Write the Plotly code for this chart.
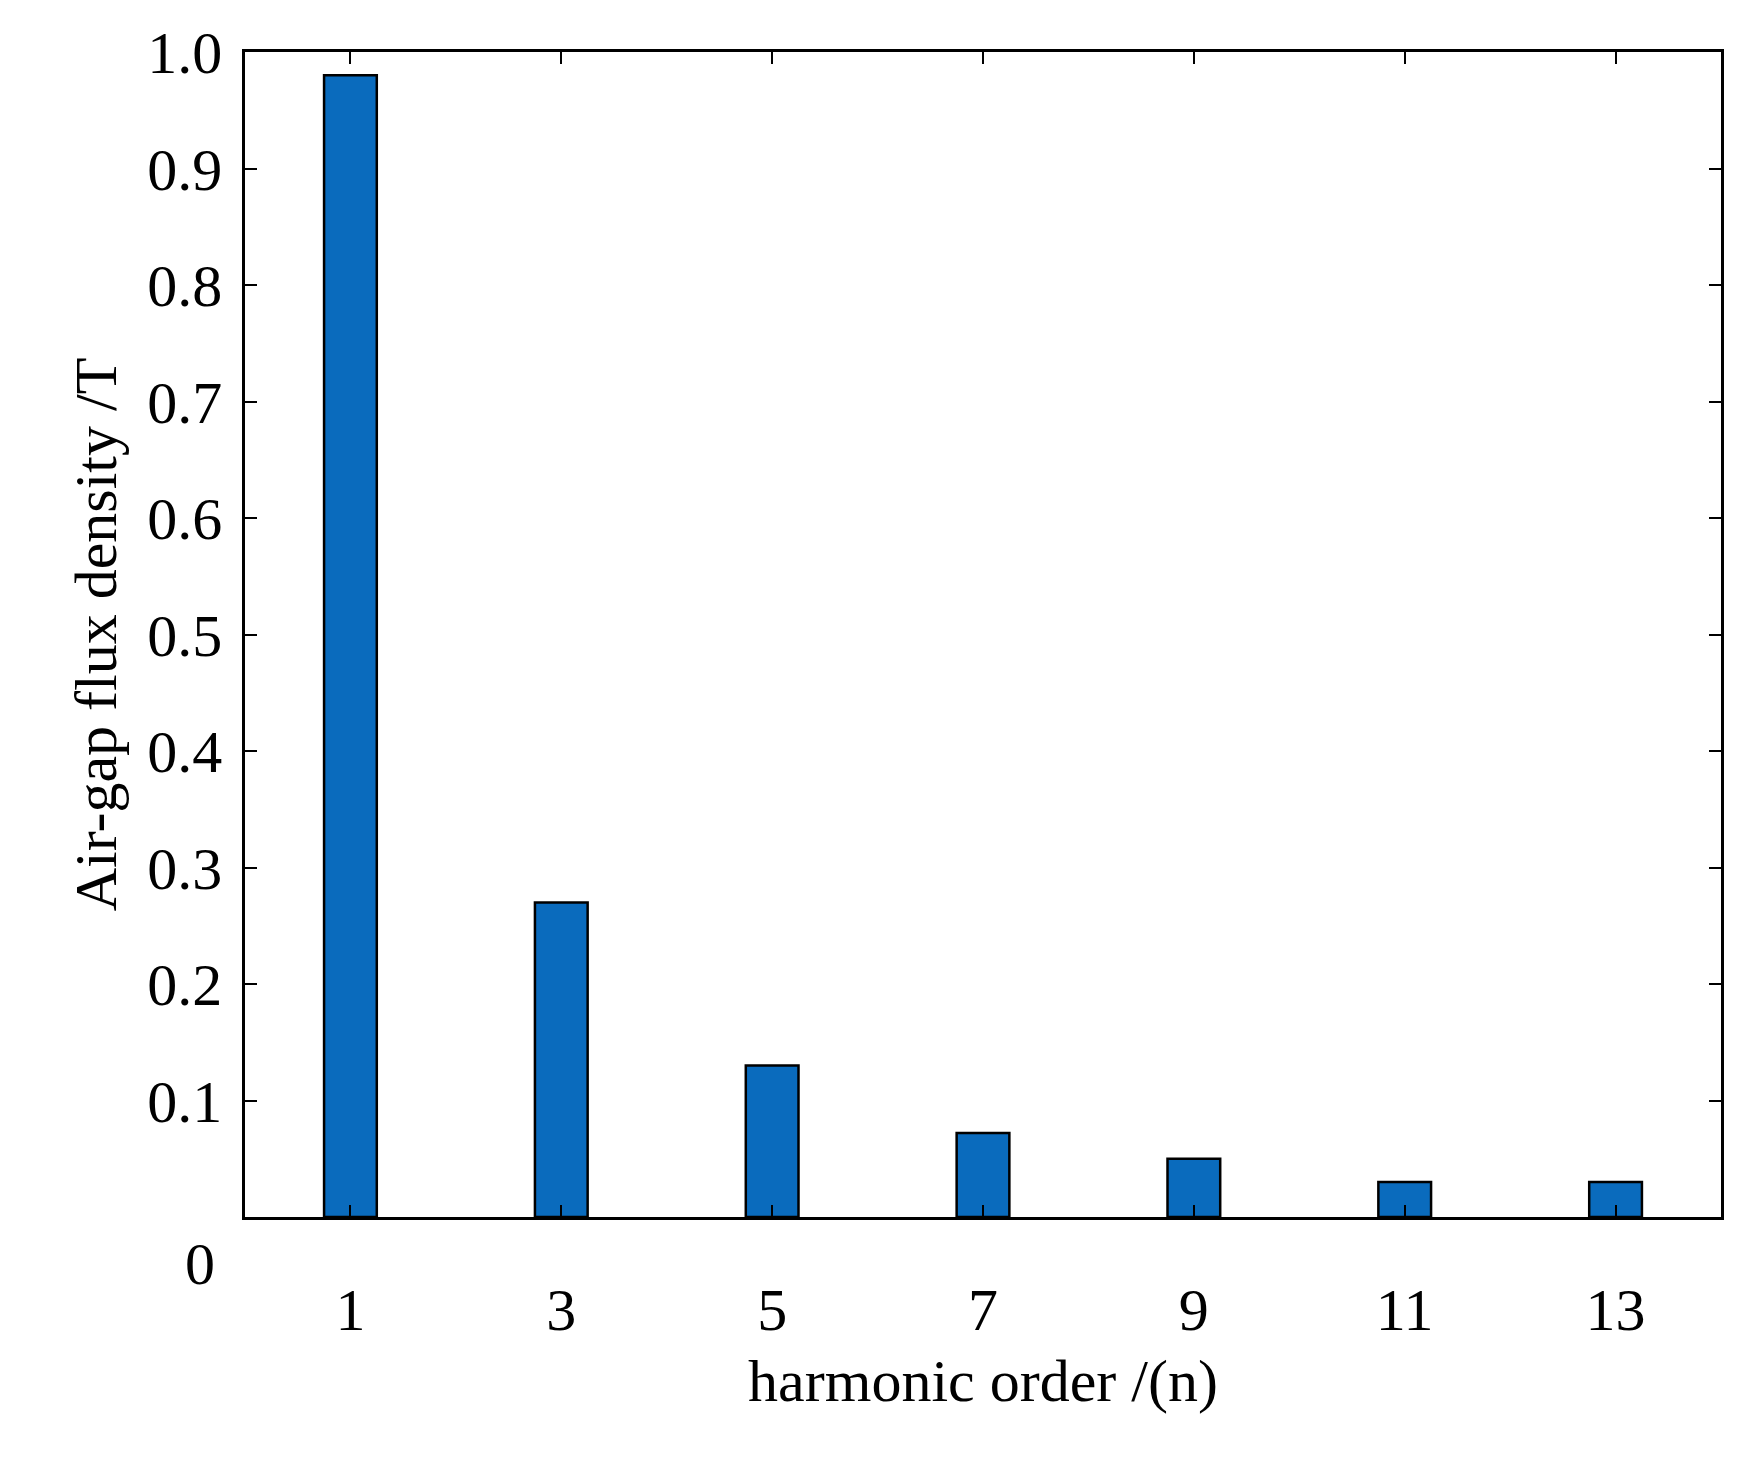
import plotly.graph_objects as go

orders = [1, 3, 5, 7, 9, 11, 13]
values = [0.98, 0.27, 0.13, 0.072, 0.05, 0.03, 0.03]
ytick_vals = [0.1, 0.2, 0.3, 0.4, 0.5, 0.6, 0.7, 0.8, 0.9, 1.0]
ytick_text = ["0.1", "0.2", "0.3", "0.4", "0.5", "0.6", "0.7", "0.8", "0.9", "1.0"]

font = dict(family="Liberation Serif", size=60, color="black")

fig = go.Figure(go.Bar(x=orders, y=values, width=0.5,
                       marker=dict(color="#0a6bbd", line=dict(color="black", width=2.5))))

axis_common = dict(showline=True, linecolor="black", linewidth=2.5, mirror="ticks",
                   ticks="inside", ticklen=12, tickwidth=2, tickcolor="black",
                   showgrid=False, zeroline=False, tickfont=font)
fig.update_layout(
    width=1750, height=1470, paper_bgcolor="white", plot_bgcolor="white",
    margin=dict(l=237, r=37, t=42, b=261),
    showlegend=False,
    xaxis=dict(range=[0, 14], tickvals=orders, ticktext=[str(o) for o in orders],
               ticklabelstandoff=38,
               title=dict(text="harmonic order /(n)", font=font, standoff=18), **axis_common),
    yaxis=dict(range=[0, 1.0], tickvals=ytick_vals, ticktext=ytick_text,
               ticklabelstandoff=8,
               title=dict(text="Air-gap flux density /T", font=font, standoff=12), **axis_common),
    annotations=[dict(text="0", xref="paper", yref="paper", x=0, y=0, xanchor="right",
                      yanchor="top", xshift=-28, yshift=-12, showarrow=False, font=font)],
)
fig.write_html("out.html")
